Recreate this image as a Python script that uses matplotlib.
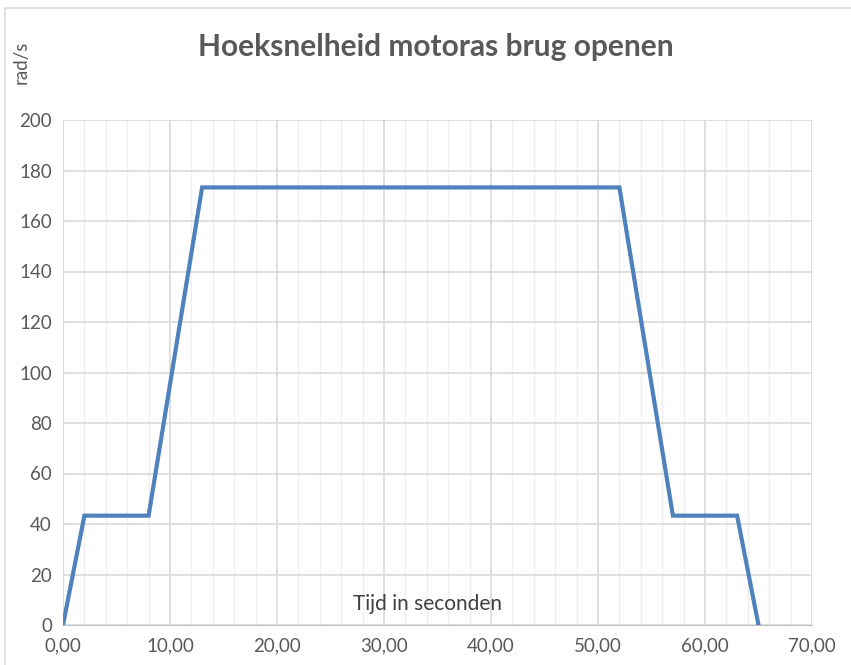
import matplotlib.pyplot as plt
from matplotlib.patches import Rectangle
from matplotlib.ticker import MultipleLocator, FuncFormatter

# tijd (s) en hoeksnelheid (rad/s)
tijd = [0, 2, 8, 13, 52, 57, 63, 65]
hoeksnelheid = [0, 43.3, 43.3, 173.3, 173.3, 43.3, 43.3, 0]

plt.rcParams['font.family'] = ['Lato', 'DejaVu Sans']

fig = plt.figure(figsize=(8.51, 6.65), dpi=100)
fig.patches.append(Rectangle((5 / 851, -0.01), 1.0, 1 - 8 / 665 + 0.01,
                             transform=fig.transFigure, fill=False,
                             edgecolor='#d9d9d9', linewidth=1.2))

ax = fig.add_axes([63 / 851, 40 / 665, (812 - 63) / 851, (625 - 120) / 665])
ax.plot(tijd, hoeksnelheid, color='#4f81bd', linewidth=3.0,
        solid_joinstyle='miter', zorder=3)

ax.set_xlim(0, 70)
ax.set_ylim(0, 200)
ax.xaxis.set_major_locator(MultipleLocator(10))
ax.xaxis.set_minor_locator(MultipleLocator(2))
ax.yaxis.set_major_locator(MultipleLocator(20))
ax.xaxis.set_major_formatter(FuncFormatter(lambda v, p: f"{v:.2f}".replace('.', ',')))

ax.grid(which='major', color='#d9d9d9', linewidth=1.2)
ax.grid(which='minor', axis='x', color='#efefef', linewidth=1.0)
ax.tick_params(which='both', length=0, labelsize=13.5, labelcolor='#595959')
ax.tick_params(axis='x', pad=9)
ax.tick_params(axis='y', pad=8)

for side in ['top', 'right']:
    ax.spines[side].set_visible(False)
ax.spines['left'].set_color('#d9d9d9')
ax.spines['bottom'].set_color('#bfbfbf')

fig.text(436 / 851, 1 - 47 / 665, 'Hoeksnelheid motoras brug openen',
         ha='center', va='center', fontsize=21.5, fontweight='bold', color='#595959')
fig.text(21 / 851, 1 - 62 / 665, 'rad/s', rotation=90, ha='center', va='center',
         fontsize=13.5, color='#595959')
ax.text(34.1, 8.5, 'Tijd in seconden', ha='center', va='center', fontsize=15,
        color='#404040')

fig.savefig('out.png', dpi=100)
